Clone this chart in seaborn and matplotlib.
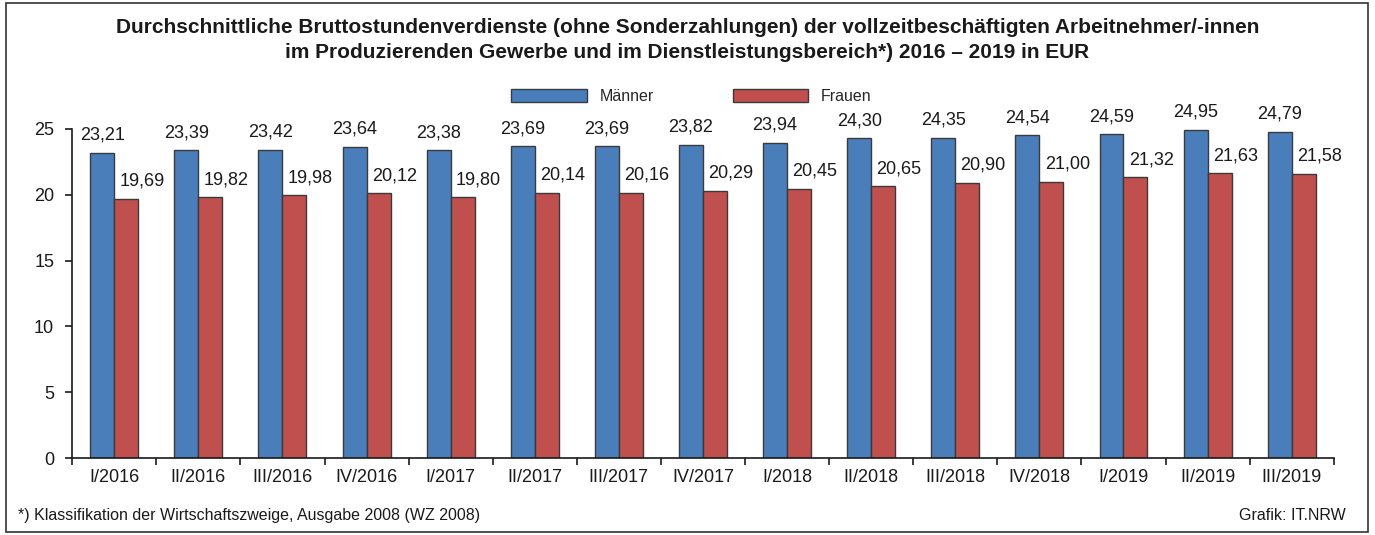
import numpy as np
import pandas as pd
import matplotlib
matplotlib.use('Agg')
import matplotlib.pyplot as plt
from matplotlib.patches import Rectangle
import seaborn as sns

###############################################################################

quarters = ['I/2016', 'II/2016', 'III/2016', 'IV/2016',
            'I/2017', 'II/2017', 'III/2017', 'IV/2017',
            'I/2018', 'II/2018', 'III/2018', 'IV/2018',
            'I/2019', 'II/2019', 'III/2019']

maenner = [23.21, 23.39, 23.42, 23.64, 23.38, 23.69, 23.69, 23.82,
           23.94, 24.30, 24.35, 24.54, 24.59, 24.95, 24.79]

frauen = [19.69, 19.82, 19.98, 20.12, 19.80, 20.14, 20.16, 20.29,
          20.45, 20.65, 20.90, 21.00, 21.32, 21.63, 21.58]

groups = ['Männer', 'Frauen']
colors = ['#4a7ebb', '#c0504d']

title = ('Durchschnittliche Bruttostundenverdienste (ohne Sonderzahlungen) '
         'der vollzeitbeschäftigten Arbeitnehmer/-innen\n'
         'im Produzierenden Gewerbe und im Dienstleistungsbereich*) '
         '2016 – 2019 in EUR')
footnote = '*) Klassifikation der Wirtschaftszweige, Ausgabe 2008 (WZ 2008)'
source = 'Grafik: IT.NRW'

###############################################################################

df = pd.DataFrame({
    'Quartal': quarters * 2,
    'Wert': maenner + frauen,
    'Gruppe': [groups[0]] * len(quarters) + [groups[1]] * len(quarters),
})

sns.set_style('white')
plt.rcParams['font.family'] = ['Liberation Sans', 'DejaVu Sans']

fig = plt.figure(figsize=(13.75, 5.35), dpi=100)
ax = fig.add_axes([0.0525, 0.1439, 0.9175, 0.615])

sns.barplot(data=df, x='Quartal', y='Wert', hue='Gruppe', order=quarters,
            hue_order=groups, palette=colors, width=0.57, gap=0,
            edgecolor='#3a3a3a', linewidth=1.0, saturation=1, ax=ax)

# value labels, the red ones shifted a bit to the right
for cont, dx in zip(ax.containers, [0, 11.5]):
    for bar in cont:
        v = bar.get_height()
        ax.annotate(f'{v:.2f}'.replace('.', ','),
                    xy=(bar.get_x() + bar.get_width() / 2, v),
                    xytext=(dx, 6.5), textcoords='offset points',
                    ha='center', va='bottom', fontsize=13, color='#1a1a1a')

ax.set_ylim(0, 25)
ax.set_xlim(-0.5, len(quarters) - 0.5)
ax.set_yticks(np.arange(0, 26, 5))
ax.set_xticks(np.arange(len(quarters)))
ax.set_xticklabels(quarters)
ax.set_xticks(np.arange(len(quarters) + 1) - 0.5, minor=True)
ax.tick_params(axis='x', which='major', length=0, pad=8, labelsize=13,
               colors='#1a1a1a')
ax.tick_params(axis='x', which='minor', length=5, width=1.2,
               direction='out', color='#1a1a1a', bottom=True)
ax.tick_params(axis='y', length=5, width=1.2, direction='out', pad=8,
               labelsize=13, colors='#1a1a1a', left=True)
ax.set_xlabel('')
ax.set_ylabel('')
for s in ['top', 'right']:
    ax.spines[s].set_visible(False)
for s in ['left', 'bottom']:
    ax.spines[s].set_color('#1a1a1a')
    ax.spines[s].set_linewidth(1.2)

handles, labels = ax.get_legend_handles_labels()
ax.get_legend().remove()
fig.legend(handles, labels, loc='center', bbox_to_anchor=(0.503, 0.82),
           ncol=2, frameon=False, fontsize=11.5, handlelength=4.75,
           handleheight=0.95, handletextpad=0.8, columnspacing=4.9)

fig.text(0.5, 0.925, title, ha='center', va='center', fontsize=15,
         fontweight='bold', linespacing=1.38, color='#1a1a1a')
fig.text(0.013, 0.022, footnote, ha='left', va='bottom', fontsize=11.5,
         color='#1a1a1a')
fig.text(0.979, 0.022, source, ha='right', va='bottom', fontsize=11.5,
         color='#1a1a1a')

fig.patches.append(Rectangle((0.004, 0.005), 0.991, 0.99,
                             transform=fig.transFigure, fill=False,
                             edgecolor='#333333', linewidth=1.2))

plt.savefig('out.png', dpi=100)
